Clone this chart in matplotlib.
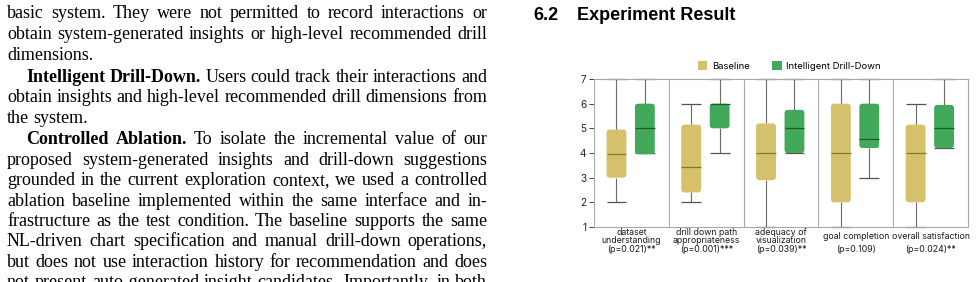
import matplotlib as mpl
import matplotlib.pyplot as plt
from matplotlib.patches import FancyBboxPatch, Patch

mpl.use('agg')

W, H = 979, 282

# chart data (Likert 1-7)
categories = ["dataset\nunderstanding", "drill down path\nappropriateness",
              "adequacy of\nvisualization", "goal completion", "overall satisfaction"]
p_labels = ["(p=0.021)**", "(p=0.001)***", "(p=0.039)**", "(p=0.109)", "(p=0.024)**"]

base_low = [2, 2, 1, 1, 1]
base_q1 = [3, 2.4, 2.9, 2, 2]
base_med = [3.95, 3.45, 4, 4, 4]
base_q3 = [4.95, 5.15, 5.2, 6, 5.15]
base_high = [7, 6, 7, 7, 6]

idd_low = [4, 4, 4, 3, 4.2]
idd_q1 = [3.95, 5, 4, 4.2, 4.2]
idd_med = [5, 6, 5, 4.58, 5]
idd_q3 = [6, 6, 5.75, 6, 5.95]
idd_high = [7, 7, 7, 7, 7]

series_names = ["Baseline", "Intelligent Drill-Down"]
colors = ["#d5c16b", "#42a85a"]
median_colors = ["#85763a", "#1d5a2b"]

# paper text, one entry per printed line: (text, bold lead-in, indented, justified)
lines = [
    ("basic system.  They were not permitted to record interactions or", "", False, True),
    ("obtain system-generated insights or high-level recommended drill", "", False, True),
    ("dimensions.", "", False, False),
    ("Users could track their interactions and", "Intelligent Drill-Down.", True, True),
    ("obtain insights and high-level recommended drill dimensions from", "", False, True),
    ("the system.", "", False, False),
    ("To isolate the incremental value of our", "Controlled Ablation.", True, True),
    ("proposed system-generated insights and drill-down suggestions", "", False, True),
    ("grounded in the current exploration context, we used a controlled", "", False, True),
    ("ablation baseline implemented within the same interface and in-", "", False, True),
    ("frastructure as the test condition. The baseline supports the same", "", False, True),
    ("NL-driven chart specification and manual drill-down operations,", "", False, True),
    ("but does not use interaction history for recommendation and does", "", False, True),
    ("not present auto-generated insight candidates. Importantly, in both", "", False, True),
]
baselines = [18.3, 38.9, 59.5, 82, 102.4, 122.8, 144.5, 164.9, 185.3, 205.7,
             226.1, 246.5, 266.9, 287.3]


def fx(x):
    return x / W


def fy(y):
    return 1 - y / H


fig = plt.figure(figsize=(W / 100, H / 100), dpi=100)
renderer = fig.canvas.get_renderer()

LEFT, RIGHT, INDENT = 7, 487, 26
serif = "Liberation Serif"
fs = 13

for (body, bold, indent, justify), yb in zip(lines, baselines):
    words = [(w, "bold") for w in bold.split()] + [(w, "normal") for w in body.split()]
    arts = []
    for w, weight in words:
        t = fig.text(0, fy(yb), w, fontsize=fs, family=serif, weight=weight,
                     va="baseline", ha="left", color="black")
        arts.append(t)
    widths = [a.get_window_extent(renderer).width for a in arts]
    x0 = INDENT if indent else LEFT
    if justify and len(arts) > 1:
        gap = (RIGHT - x0 - sum(widths)) / (len(arts) - 1)
    else:
        gap = fs * 100 / 72 * 0.25
    x = x0
    for a, w in zip(arts, widths):
        a.set_x(fx(x))
        x += w + gap

fig.text(fx(533), fy(20.5), "6.2", fontsize=13, family="Liberation Sans",
         weight="bold", va="baseline")
fig.text(fx(577.5), fy(20.5), "Experiment Result", fontsize=13,
         family="Liberation Sans", weight="bold", va="baseline")

# chart
ax = fig.add_axes([fx(594), fy(227), (968 - 594) / W, (227 - 79) / H])
ax.set_xlim(0, 5)
ax.set_ylim(1, 7)

offsets = [0.30, 0.68]
bw = 0.265
stats = [
    (base_low, base_q1, base_med, base_q3, base_high),
    (idd_low, idd_q1, idd_med, idd_q3, idd_high),
]
for s, (lo, q1, med, q3, hi) in enumerate(stats):
    for i in range(len(categories)):
        xc = i + offsets[s]
        ax.vlines(xc, lo[i], q1[i], color="#6a6a6a", lw=0.8, zorder=2)
        ax.vlines(xc, q3[i], hi[i], color="#6a6a6a", lw=0.8, zorder=2)
        ax.hlines([lo[i], hi[i]], xc - bw / 2, xc + bw / 2, color="#555555",
                  lw=0.9, zorder=2, clip_on=False)
        box = FancyBboxPatch((xc - bw / 2, q1[i]), bw, q3[i] - q1[i],
                             boxstyle="round,pad=0,rounding_size=0.045",
                             mutation_aspect=3.0, facecolor=colors[s],
                             edgecolor="none", zorder=3)
        ax.add_patch(box)
        ax.hlines(med[i], xc - bw / 2, xc + bw / 2, color=median_colors[s],
                  lw=0.9, zorder=4)

for d in range(1, len(categories)):
    ax.axvline(d, color="#a8a8a8", lw=0.8, zorder=1)

for sp in ax.spines.values():
    sp.set_color("#a8a8a8")
    sp.set_linewidth(0.8)

ax.set_yticks(range(1, 8))
ax.tick_params(axis="y", labelsize=7.2, length=3.5, width=0.7, color="#444444",
               labelcolor="#222222", pad=2)
ax.set_xticks([])
for lbl in ax.get_yticklabels():
    lbl.set_family("Inter")

for i, (name, p) in enumerate(zip(categories, p_labels)):
    ax.text(i + 0.5, 1 - 9.2 / 24.67, name, ha="center", va="center", fontsize=6.3,
            family="Inter", color="#1a1a1a", linespacing=0.82)
    ax.text(i + 0.5, 1 - 22.3 / 24.67, p, ha="center", va="center", fontsize=6.3,
            family="Inter", color="#1a1a1a")

handles = [Patch(facecolor=c, edgecolor="none") for c in colors]
ax.legend(handles, series_names, loc="lower center", bbox_to_anchor=(0.522, 1.055),
          ncol=2, frameon=False, prop={"family": "Inter", "size": 6.8},
          handlelength=1.0, handleheight=1.0, handletextpad=0.45,
          columnspacing=2.4, borderpad=0, borderaxespad=0)

fig.savefig("out.png", dpi=100)
